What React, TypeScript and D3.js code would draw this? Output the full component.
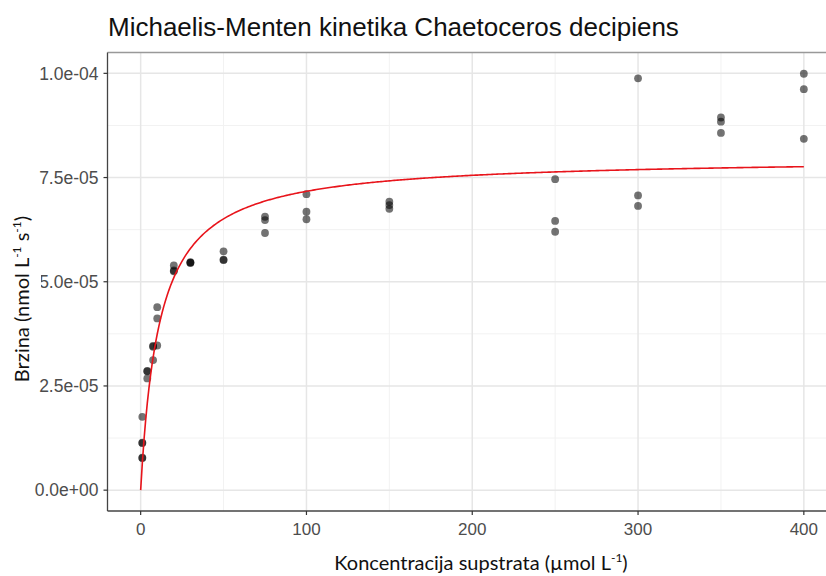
import React from "react";
import * as d3 from "d3";

// ---- data ----
const concentration: number[] = [
  1, 1, 1, 1, 1,
  4, 4, 4,
  7.5, 7.5, 7.5,
  10, 10, 10,
  20, 20, 20,
  30, 30, 30,
  50, 50, 50,
  75, 75, 75,
  100, 100, 100,
  150, 150, 150,
  250, 250, 250,
  300, 300, 300,
  350, 350, 350,
  400, 400, 400,
];
const rate: number[] = [
  1.76e-5, 1.14e-5, 1.13e-5, 0.78e-5, 0.77e-5,
  2.86e-5, 2.85e-5, 2.68e-5,
  3.44e-5, 3.12e-5, 3.46e-5,
  4.39e-5, 4.12e-5, 3.47e-5,
  5.39e-5, 5.27e-5, 5.25e-5,
  5.47e-5, 5.46e-5, 5.45e-5,
  5.73e-5, 5.53e-5, 5.52e-5,
  6.56e-5, 6.48e-5, 6.17e-5,
  7.10e-5, 6.68e-5, 6.50e-5,
  6.92e-5, 6.84e-5, 6.75e-5,
  7.46e-5, 6.46e-5, 6.20e-5,
  9.88e-5, 7.07e-5, 6.82e-5,
  8.94e-5, 8.84e-5, 8.57e-5,
  9.99e-5, 9.62e-5, 8.43e-5,
];
// fitted Michaelis-Menten parameters
const VMAX = 7.98e-5;
const KM = 11.3;

const xTicks: number[] = [0, 100, 200, 300, 400];
const xMinor: number[] = [50, 150, 250, 350];
const yTicks: number[] = [0, 2.5e-5, 5e-5, 7.5e-5, 1e-4];
const yTickLabels: string[] = ["0.0e+00", "2.5e-05", "5.0e-05", "7.5e-05", "1.0e-04"];
const yMinor: number[] = [1.25e-5, 3.75e-5, 6.25e-5, 8.75e-5];

const W = 826;
const H = 576;
const panel = { left: 107.5, top: 52.5, right: 837, bottom: 511 };

export default function App() {
  const x = d3.scaleLinear().domain([-20, 420]).range([panel.left, panel.right]);
  const y = d3.scaleLinear().domain([-5e-6, 1.05e-4]).range([panel.bottom, panel.top]);

  const curveX = d3.range(0, 400.001, 1);
  const line = d3
    .line<number>()
    .x((s) => x(s))
    .y((s) => y((VMAX * s) / (KM + s)));

  const tickFont = "'Liberation Sans', Arial, sans-serif";
  const titleFont = "Lato, 'Open Sans', sans-serif";

  return (
    <svg width={W} height={H} style={{ position: "absolute", left: 0, top: 0, background: "#fff" }}>
      <rect x={0} y={0} width={W} height={H} fill="#fff" />
      {/* grid */}
      {xMinor.map((v) => (
        <line key={"xm" + v} x1={x(v)} x2={x(v)} y1={panel.top} y2={panel.bottom} stroke="#f2f2f2" strokeWidth={1} />
      ))}
      {yMinor.map((v) => (
        <line key={"ym" + v} x1={panel.left} x2={panel.right} y1={y(v)} y2={y(v)} stroke="#f2f2f2" strokeWidth={1} />
      ))}
      {xTicks.map((v) => (
        <line key={"xg" + v} x1={x(v)} x2={x(v)} y1={panel.top} y2={panel.bottom} stroke="#e6e6e6" strokeWidth={1.5} />
      ))}
      {yTicks.map((v) => (
        <line key={"yg" + v} x1={panel.left} x2={panel.right} y1={y(v)} y2={y(v)} stroke="#e6e6e6" strokeWidth={1.5} />
      ))}
      {/* points */}
      {concentration.map((c, i) => (
        <circle key={"p" + i} cx={x(c)} cy={y(rate[i])} r={3.9} fill="#000" fillOpacity={0.55} />
      ))}
      {/* fitted curve */}
      <path d={line(curveX) || ""} fill="none" stroke="#e8141b" strokeWidth={1.6} />
      {/* panel border */}
      <line x1={panel.left} x2={panel.right} y1={panel.top} y2={panel.top} stroke="#999" strokeWidth={1.6} />
      <line x1={panel.left} x2={panel.left} y1={panel.top} y2={panel.bottom} stroke="#444" strokeWidth={1.3} />
      <line x1={panel.left} x2={panel.right} y1={panel.bottom} y2={panel.bottom} stroke="#444" strokeWidth={1.3} />
      {/* x ticks */}
      {xTicks.map((v) => (
        <g key={"xt" + v}>
          <line x1={x(v)} x2={x(v)} y1={panel.bottom} y2={panel.bottom + 4} stroke="#333" strokeWidth={1.2} />
          <text x={x(v)} y={535} textAnchor="middle" fontFamily={tickFont} fontSize={17} fill="#4d4d4d">
            {v}
          </text>
        </g>
      ))}
      {/* y ticks */}
      {yTicks.map((v, i) => (
        <g key={"yt" + v}>
          <line x1={panel.left - 4} x2={panel.left} y1={y(v)} y2={y(v)} stroke="#333" strokeWidth={1.2} />
          <text x={panel.left - 9} y={y(v)} dy="0.36em" textAnchor="end" fontFamily={tickFont} fontSize={17.5} fill="#4d4d4d">
            {yTickLabels[i]}
          </text>
        </g>
      ))}
      {/* white box of the pasted y title */}
      <rect x={0} y={200} width={41} height={110} fill="#fff" />
      {/* title */}
      <text x={108} y={36} fontFamily={tickFont} fontSize={26} fill="#111">
        Michaelis-Menten kinetika Chaetoceros decipiens
      </text>
      {/* x title */}
      <text x={481} y={570} textAnchor="middle" fontFamily={titleFont} fontSize={20} fill="#111">
        Koncentracija supstrata (µmol L
        <tspan fontSize={12} dy={-8}>-1</tspan>
        <tspan dy={8}>)</tspan>
      </text>
      {/* y title */}
      <text
        transform="translate(29,299) rotate(-90)"
        textAnchor="middle"
        fontFamily={titleFont}
        fontSize={20}
        fill="#111"
      >
        Brzina (nmol L<tspan fontSize={12} dy={-8}>-1</tspan>
        <tspan dy={8}> s</tspan>
        <tspan fontSize={12} dy={-8}>-1</tspan>
        <tspan dy={8}>)</tspan>
      </text>
    </svg>
  );
}
